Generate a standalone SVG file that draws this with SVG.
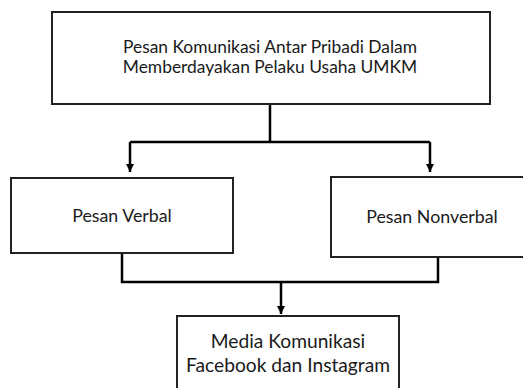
<svg xmlns="http://www.w3.org/2000/svg" width="523" height="388" viewBox="0 0 523 388">
<defs>
<style>
.box{fill:#fff;stroke:#222;stroke-width:2}
.t{font-family:Lato,"Open Sans","Liberation Sans",sans-serif;font-size:17.4px;fill:#1a1a1a;text-anchor:middle}
.tm{font-size:17.8px}
.tb{font-size:19.2px}
.c{fill:none;stroke:#000;stroke-width:2.5}
</style>
<marker id="ah" viewBox="0 0 10 10" refX="10" refY="5" markerWidth="8" markerHeight="8" markerUnits="userSpaceOnUse" orient="auto"><path d="M0,0 L10,5 L0,10 z" fill="#000"/></marker>
</defs>
<rect width="523" height="388" fill="#fff"/>
<g id="connectors">
<path class="c" d="M270,104 V142"/>
<path class="c" d="M130,142 H430"/>
<path class="c" d="M130,142 V172" marker-end="url(#ah)"/>
<path class="c" d="M430,142 V172" marker-end="url(#ah)"/>
<path class="c" d="M122,253 V282 H438 V257"/>
<path class="c" d="M281,282 V314" marker-end="url(#ah)"/>
</g>
<g id="node-top">
<rect class="box" x="52" y="12" width="438" height="92"/>
<text class="t" x="270" y="53">Pesan Komunikasi Antar Pribadi Dalam</text>
<text class="t" x="270" y="73">Memberdayakan Pelaku Usaha UMKM</text>
</g>
<g id="node-verbal">
<rect class="box" x="11" y="178" width="222" height="75"/>
<text class="t tm" x="122" y="222">Pesan Verbal</text>
</g>
<g id="node-nonverbal">
<rect class="box" x="331" y="177" width="200" height="80"/>
<text class="t tm" x="432" y="223">Pesan Nonverbal</text>
</g>
<g id="node-media">
<rect class="box" x="177" y="316" width="222" height="80"/>
<text class="t tb" x="288" y="348">Media Komunikasi</text>
<text class="t tb" x="288" y="372">Facebook dan Instagram</text>
</g>
</svg>
